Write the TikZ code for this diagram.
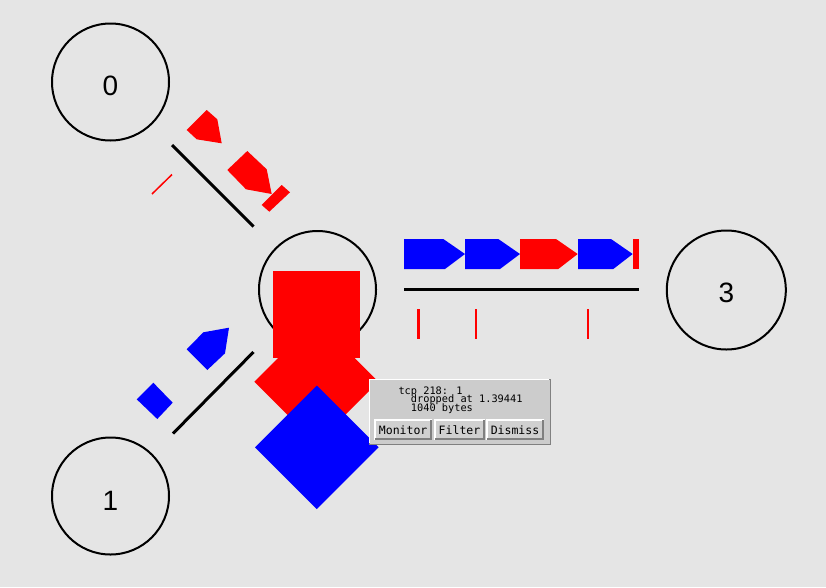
\documentclass[tikz,border=0pt]{standalone}
\usepackage{fontspec}
\setmainfont{Liberation Sans}
\newfontfamily\popfont{DejaVu Sans Mono}
\definecolor{bgc}{RGB}{229,229,229}
\definecolor{popc}{RGB}{204,204,204}
\definecolor{btnc}{RGB}{208,208,208}
\definecolor{darkb}{RGB}{128,128,128}
\definecolor{pblue}{RGB}{0,0,255}
\definecolor{pred}{RGB}{255,0,0}
\begin{document}
\begin{tikzpicture}[x=1pt,y=-1pt,
  nodecirc/.style={circle,draw=black,line width=2pt,minimum size=117pt,inner sep=0pt},
  nodelab/.style={inner sep=0pt,font=\fontsize{28}{28}\selectfont},
  linkline/.style={line width=3pt,black},
  droptick/.style={line width=2.5pt,pred},
  redpkt/.style={fill=pred,draw=none},
  bluepkt/.style={fill=pblue,draw=none},
  btn/.style={fill=btnc,draw=none},
  poptext/.style={anchor=base west,inner sep=0pt,font=\popfont\fontsize{10.3}{10.3}\selectfont},
  btntext/.style={inner sep=0pt,font=\popfont\fontsize{11.5}{11.5}\selectfont}]
\fill[bgc] (0,0) rectangle (826,587);
\useasboundingbox (0,0) rectangle (826,587);

% nodes
\node[nodecirc] (n0) at (110.5,82) {};
\node[nodecirc] (n1) at (110.5,496) {};
\node[nodecirc] (n2) at (317.5,289.5) {};
\node[nodecirc,minimum size=119pt] (n3) at (726.3,290) {};
\node[nodelab] (l0) at (110.5,86.2) {0};
\node[nodelab] (l1) at (110.5,500.5) {1};
\node[nodelab] (l3) at (726.3,292.5) {3};

% link endpoints
\coordinate (a0) at (172,145);
\coordinate (a2) at (253.5,226.5);
\coordinate (b1) at (173,433.5);
\coordinate (b2) at (253.5,352);
\coordinate (c2) at (404,289.3);
\coordinate (c3) at (639,289.3);
\draw[linkline] (a0) -- (a2);
\draw[linkline] (b1) -- (b2);
\draw[linkline] (c2) -- (c3);

% drop ticks
\coordinate (d1s) at (152,194);
\coordinate (d1e) at (172,174.5);
\draw[droptick,line width=1.5pt] (d1s) -- (d1e);
\foreach \x/\w in {418.3/3,475.7/2,587.7/2}{
  \draw[droptick,line width=\w pt] (\x,309) -- (\x,339);
}

% red packets on link 0-2
\fill[redpkt] (186.7,130) -- (206.7,110) -- (217.3,119.3) -- (221.7,143.3) -- (196.7,139.3) -- cycle;
\fill[redpkt] (227.3,170) -- (247.3,151) -- (266.7,169.3) -- (271.7,194) -- (246,189.3) -- cycle;
\fill[redpkt] (261.7,205) -- (281.7,185) -- (290,192.3) -- (269.3,211.7) -- cycle;

% blue packets on link 1-2
\fill[bluepkt] (186.7,349.3) -- (203.3,332.3) -- (229,327.7) -- (225,353.3) -- (207.3,370) -- cycle;
\fill[bluepkt] (136.7,399.3) -- (153.3,382.7) -- (172.7,402.7) -- (157.3,419) -- cycle;

% packets on link 2-3
\fill[bluepkt] (404,239) -- (443.3,239) -- (465,254) -- (445,269) -- (404,269) -- cycle;
\fill[bluepkt] (465,239) -- (498.3,239) -- (520,254) -- (500,269) -- (465,269) -- cycle;
\fill[redpkt] (520,239) -- (556,239) -- (577.7,254) -- (558.3,269) -- (520,269) -- cycle;
\fill[bluepkt] (578,239) -- (611,239) -- (632.7,254) -- (613.3,269) -- (578,269) -- cycle;
\fill[redpkt] (632.7,239) rectangle (639,269);

% queue at node 2
\fill[redpkt] (272.7,270.7) rectangle (360,358.3);
\fill[redpkt] (316.3,319.7) -- (378.3,381.7) -- (316.3,443.7) -- (254.3,381.7) -- cycle;
\fill[bluepkt] (316.8,385.5) -- (378.6,447.3) -- (316.8,509.1) -- (255,447.3) -- cycle;

% popup
\node[draw=darkb,fill=popc,line width=1pt,minimum width=181pt,minimum height=65pt,inner sep=0pt,anchor=north west] (pop) at (368.5,378.5) {};
\draw[white,line width=1pt] (369.5,443) -- (369.5,379.5) -- (549,379.5);
\node[poptext] (t1) at (398.3,394) {tcp 218: 1};
\node[poptext] (t2) at (410.7,402.9) {dropped at 1.39441};
\node[poptext] (t3) at (410.7,411.6) {1040 bytes};
\foreach \nm/\xa/\xb/\lab in {bm/374/432.3/Monitor,bf/434/485/Filter,bd/486/544/Dismiss}{
  \fill[btn] (\xa,419.3) rectangle (\xb,440);
  \draw[white,line width=1.5pt] (\xa+0.75,440) -- (\xa+0.75,420) -- (\xb,420);
  \draw[darkb,line width=2pt] (\xa+1,439) -- (\xb-1,439) -- (\xb-1,420);
  \node[btntext] (\nm) at ({(\xa+\xb)/2},429.8) {\lab};
}
\end{tikzpicture}
\end{document}
